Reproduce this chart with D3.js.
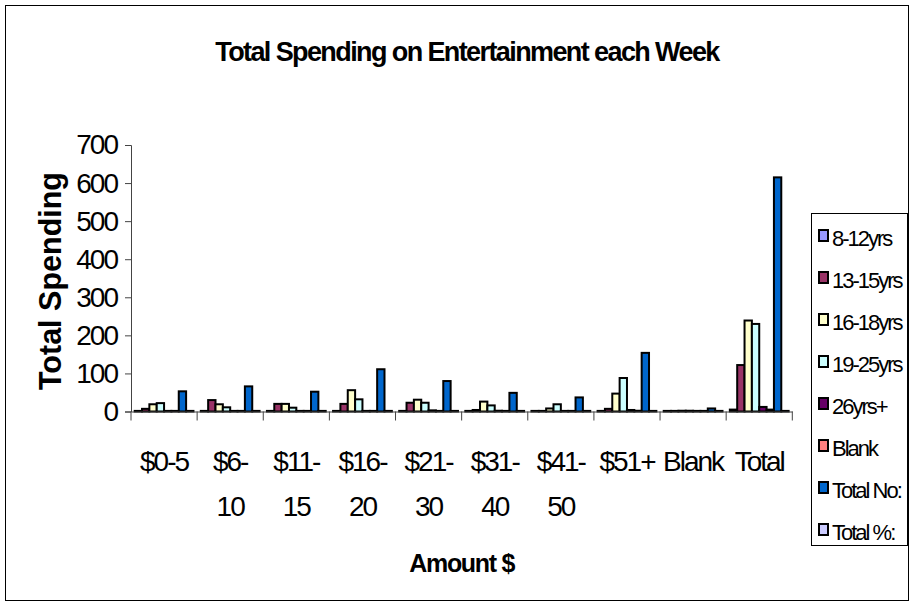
<!DOCTYPE html>
<html>
<head>
<meta charset="utf-8">
<script src="https://cdn.jsdelivr.net/npm/d3@7"></script>
<style>
    body { margin: 0; background: #fff; }
    text { font-family: "Liberation Sans", Arial, sans-serif; }
</style>
</head>
<body>
<div id="chart"></div>
<script>
const categories = ["$0-5", "$6-10", "$11-15", "$16-20", "$21-30", "$31-40", "$41-50", "$51+", "Blank", "Total"];
const tickLines = [["$0-5"], ["$6-", "10"], ["$11-", "15"], ["$16-", "20"], ["$21-", "30"], ["$31-", "40"], ["$41-", "50"], ["$51+"], ["Blank"], ["Total"]];

const seriesNames = ["8-12yrs", "13-15yrs", "16-18yrs", "19-25yrs", "26yrs+", "Blank", "Total No:", "Total %:"];
const seriesColors = ["#9999FF", "#993366", "#FFFFCC", "#CCFFFF", "#660066", "#FF8080", "#0066CC", "#CCCCFF"];

const age8to12 = [1, 1, 1, 1, 0, 0, 0, 1, 0, 5];
const age13to15 = [7, 30, 20, 20, 23, 4, 1, 7, 0, 122];
const age16to18 = [19, 19, 20, 56, 31, 26, 8, 47, 2, 239];
const age19to25 = [22, 11, 10, 32, 23, 16, 19, 88, 2, 230];
const age26plus = [0, 1, 0, 1, 3, 2, 0, 4, 1, 12];
const ageBlank = [0, 0, 0, 1, 1, 0, 0, 2, 0, 5];
const totalNo = [53, 66, 52, 111, 80, 49, 37, 154, 8, 615];
const totalPct = [0.09, 0.11, 0.09, 0.18, 0.13, 0.08, 0.06, 0.25, 0.01, 1];

const yTicks = [0, 100, 200, 300, 400, 500, 600, 700];

const seriesValues = [age8to12, age13to15, age16to18, age19to25, age26plus, ageBlank, totalNo, totalPct];

const width = 915, height = 607;
const plot = {left: 131, right: 792.3, top: 145, bottom: 411.5};

const svg = d3.select("#chart")
    .append("svg")
    .attr("width", width)
    .attr("height", height);

// chart border
svg.append("rect")
    .attr("x", 5.5).attr("y", 5.5)
    .attr("width", 903).attr("height", 595)
    .attr("fill", "#fff")
    .attr("stroke", "#000")
    .attr("stroke-width", 1);

const x0 = d3.scaleBand()
    .domain(categories)
    .range([plot.left, plot.right])
    .padding(0);

const x1 = d3.scaleBand()
    .domain(seriesNames)
    .range([0, x0.bandwidth()])
    .paddingInner(0)
    .paddingOuter(0.5);

const y = d3.scaleLinear()
    .domain([0, 700])
    .range([plot.bottom, plot.top]);

// bars
const groups = svg.append("g")
    .selectAll("g")
    .data(categories)
    .enter().append("g")
    .attr("transform", function(d) { return "translate(" + x0(d) + ",0)"; });

groups.selectAll("rect")
    .data(function(d, i) {
        return seriesNames.map(function(s, j) { return {series: s, value: seriesValues[j][i], color: seriesColors[j]}; });
    })
    .enter().append("rect")
    .attr("x", function(d) { return x1(d.series); })
    .attr("width", x1.bandwidth())
    .attr("y", function(d) { return Math.min(y(d.value), plot.bottom - 0.6); })
    .attr("height", function(d) { return Math.max(plot.bottom - y(d.value), 0.6); })
    .attr("fill", function(d) { return d.color; })
    .attr("stroke", "#000")
    .attr("stroke-width", 2);

// y axis
const yAxis = svg.append("g")
    .attr("transform", "translate(" + plot.left + ",0)")
    .call(d3.axisLeft(y).tickValues(yTicks).tickSize(6).tickPadding(8));
yAxis.select(".domain").attr("stroke", "#444");
yAxis.selectAll(".tick line").attr("stroke", "#444");
yAxis.selectAll(".tick text")
    .attr("font-size", 28)
    .attr("letter-spacing", -2)
    .attr("fill", "#000")
    .attr("font-family", "Liberation Sans, Arial, sans-serif");

// x axis
const xAxis = svg.append("g")
    .attr("transform", "translate(0," + plot.bottom + ")")
    .call(d3.axisBottom(x0).tickSize(0).tickFormat(""));
xAxis.select(".domain").attr("stroke", "#444");

svg.append("g")
    .selectAll("line")
    .data(categories.concat(["end"]))
    .enter().append("line")
    .attr("x1", function(d, i) { return plot.left + i * x0.step(); })
    .attr("x2", function(d, i) { return plot.left + i * x0.step(); })
    .attr("y1", plot.bottom)
    .attr("y2", plot.bottom + 9)
    .attr("stroke", "#444");

const xLabels = svg.append("g")
    .selectAll("text")
    .data(categories)
    .enter().append("text")
    .attr("x", function(d) { return x0(d) + x0.bandwidth() / 2; })
    .attr("y", 471)
    .attr("text-anchor", "middle")
    .attr("font-size", 28)
    .attr("letter-spacing", -2)
    .each(function(d, i) {
        const t = d3.select(this);
        tickLines[i].forEach(function(line, k) {
            t.append("tspan")
                .attr("x", x0(d) + x0.bandwidth() / 2)
                .attr("dy", k === 0 ? 0 : 45)
                .text(line);
        });
    });

// titles
svg.append("text")
    .attr("x", 467)
    .attr("y", 61)
    .attr("text-anchor", "middle")
    .attr("font-size", 27)
    .attr("font-weight", "bold")
    .attr("letter-spacing", -1.6)
    .text("Total Spending on Entertainment each Week");

svg.append("text")
    .attr("transform", "translate(61,281)rotate(-90)")
    .attr("text-anchor", "middle")
    .attr("font-size", 30.5)
    .attr("font-weight", "bold")
    .text("Total Spending");

svg.append("text")
    .attr("x", (plot.left + plot.right) / 2)
    .attr("y", 572)
    .attr("text-anchor", "middle")
    .attr("font-size", 25)
    .attr("font-weight", "bold")
    .attr("letter-spacing", -1.3)
    .text("Amount $");

// legend
const legend = svg.append("g");
legend.append("rect")
    .attr("x", 811.5).attr("y", 213.5)
    .attr("width", 96).attr("height", 332)
    .attr("fill", "#fff")
    .attr("stroke", "#000")
    .attr("stroke-width", 1);

const legendItem = legend.selectAll(".item")
    .data(seriesNames)
    .enter().append("g")
    .attr("class", "item")
    .attr("transform", function(d, i) { return "translate(0," + (236 + i * 42) + ")"; });

legendItem.append("rect")
    .attr("x", 819).attr("y", -6)
    .attr("width", 9).attr("height", 11)
    .attr("fill", function(d, i) { return seriesColors[i]; })
    .attr("stroke", "#000")
    .attr("stroke-width", 2);

legendItem.append("text")
    .attr("x", 832)
    .attr("y", 10)
    .attr("font-size", 22)
    .attr("letter-spacing", -2)
    .text(function(d) { return d; });
</script>
</body>
</html>
